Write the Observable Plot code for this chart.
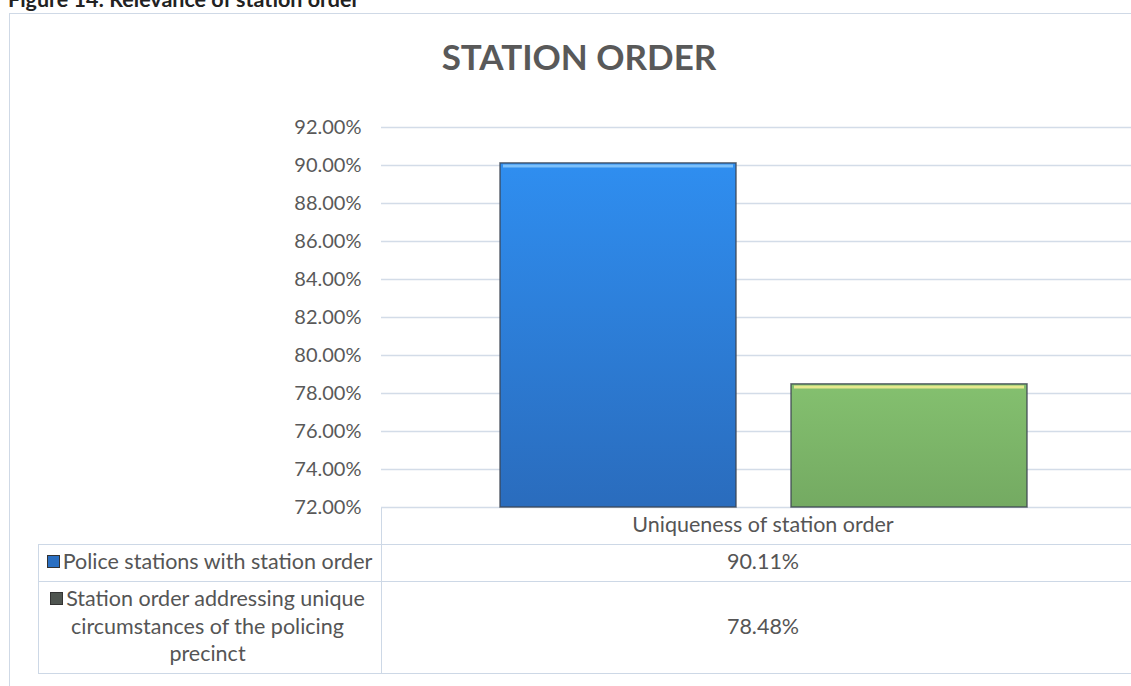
<!DOCTYPE html>
<html>
<head>
<meta charset="utf-8">
<script src="https://cdn.jsdelivr.net/npm/d3@7"></script>
<script src="https://cdn.jsdelivr.net/npm/@observablehq/plot@0.6"></script>
<style>
  body { margin:0; background:#fff; }
  #wrap { position:relative; width:1131px; height:686px; overflow:hidden; background:#fff; font-family: Lato, "Open Sans", sans-serif; color:#595959; }
  .abs { position:absolute; }
  .txt { position:absolute; font-size:21.5px; color:#555; white-space:nowrap; }
  .hl { position:absolute; height:0; border-top:1.5px solid #cdd8e6; }
  .vl { position:absolute; width:0; border-left:1.5px solid #cdd8e6; }
  .key { display:inline-block; width:11px; height:11px; margin-right:3px; vertical-align:1px; border:1px solid #333; }
</style>
</head>
<body>
<div id="wrap">
  <div class="abs" style="left:9px;top:13px;width:1140px;height:700px;border:1.5px solid #cfd9e6;"></div>
  <div class="abs" id="caption" style="left:8px;top:-13px;font-size:21.5px;line-height:25px;font-weight:bold;color:#222;white-space:nowrap;"></div>
  <div class="abs" id="title" style="left:0;top:35px;width:1158px;text-align:center;font-size:35px;font-weight:bold;color:#595959;"></div>
  <div id="chart" class="abs" style="left:0;top:0;"></div>
  <div id="table"></div>
</div>
<script>
const captionText = "Figure 14: Relevance of station order";
const chartTitle = "STATION ORDER";
const categories = ["Uniqueness of station order"];
const seriesNames = ["Police stations with station order", "Station order addressing unique circumstances of the policing precinct"];
const seriesValues = [90.11, 78.48];
const yTicks = [72, 74, 76, 78, 80, 82, 84, 86, 88, 90, 92];

document.getElementById("caption").textContent = captionText;
document.getElementById("title").textContent = chartTitle;

const data = seriesNames.map((s, i) => ({series: s, value: seriesValues[i], category: categories[0]}));

const defs = () => {
  const d = d3.create("svg:defs");
  const gb = d.append("linearGradient").attr("id", "gBlue").attr("x1", 0).attr("x2", 0).attr("y1", 0).attr("y2", 1);
  gb.append("stop").attr("offset", "0%").attr("stop-color", "#2f8ef0");
  gb.append("stop").attr("offset", "100%").attr("stop-color", "#2a6cbd");
  const gg = d.append("linearGradient").attr("id", "gGreen").attr("x1", 0).attr("x2", 0).attr("y1", 0).attr("y2", 1);
  gg.append("stop").attr("offset", "0%").attr("stop-color", "#84c06f");
  gg.append("stop").attr("offset", "100%").attr("stop-color", "#74aa62");
  return d.node();
};

const plot = Plot.plot({
  width: 1131,
  height: 686,
  marginTop: 127,
  marginBottom: 686 - 507,
  marginLeft: 381,
  marginRight: 0,
  style: {background: "transparent", fontFamily: "Lato, 'Open Sans', sans-serif", fontSize: "20px", color: "#595959", overflow: "visible"},
  x: {type: "band", domain: seriesNames, range: [500, 1027], paddingInner: 0.19, paddingOuter: 0, axis: null},
  y: {domain: [72, 92], axis: null},
  color: {domain: seriesNames, range: ["url(#gBlue)", "url(#gGreen)"]},
  marks: [
    defs,
    Plot.ruleY(yTicks, {stroke: "#d3dce8", strokeWidth: 1.5}),
    Plot.axisY({ticks: yTicks, tickFormat: d => d.toFixed(2) + "%", tickSize: 0, tickPadding: 20, fill: "#595959", label: null}),
    Plot.barY(data, {x: "series", y1: 72, y2: "value", fill: "series", stroke: "#3b4450", strokeWidth: 1.5, strokeOpacity: 0.8}),
    Plot.tickY(data.slice(0, 1), {x: "series", y: "value", stroke: "#7cc0fa", strokeWidth: 3, dy: 2.5, inset: 3}),
    Plot.tickY(data.slice(1, 2), {x: "series", y: "value", stroke: "#e6e98e", strokeWidth: 3, dy: 2.5, inset: 3})
  ]
});
document.getElementById("chart").appendChild(plot);

// data table
const t = document.getElementById("table");
function add(html) { t.insertAdjacentHTML("beforeend", html); }
const colX = 381, leftX = 38, rightX = 1140;
const rowsY = [508, 544, 581, 673];
add(`<div class="vl" style="left:${colX}px;top:${rowsY[0]}px;height:${rowsY[3]-rowsY[0]}px"></div>`);
add(`<div class="vl" style="left:${leftX}px;top:${rowsY[1]}px;height:${rowsY[3]-rowsY[1]}px"></div>`);
add(`<div class="hl" style="left:${leftX}px;top:${rowsY[1]}px;width:${rightX-leftX}px"></div>`);
add(`<div class="hl" style="left:${leftX}px;top:${rowsY[2]}px;width:${rightX-leftX}px"></div>`);
add(`<div class="hl" style="left:${leftX}px;top:${rowsY[3]}px;width:${rightX-leftX}px"></div>`);
const valCenter = 763;
add(`<div class="txt" style="left:${valCenter-300}px;width:600px;text-align:center;top:${rowsY[0]+3}px">${categories[0]}</div>`);
const fmt = v => v.toFixed(2) + "%";
add(`<div class="txt" style="left:${valCenter-300}px;width:600px;text-align:center;top:${rowsY[1]+4}px">${fmt(seriesValues[0])}</div>`);
add(`<div class="txt" style="left:${valCenter-300}px;width:600px;text-align:center;top:${rowsY[2]+32}px">${fmt(seriesValues[1])}</div>`);
const keyColors = ["#2a6fc2", "#4f5550"];
add(`<div class="txt" style="left:${leftX+2}px;width:${colX-leftX-4}px;top:${rowsY[1]+4}px;white-space:normal;text-align:center;line-height:27px"><span class="key" style="background:${keyColors[0]}"></span>${seriesNames[0]}</div>`);
add(`<div class="txt" style="left:${leftX+2}px;width:${colX-leftX-8}px;top:${rowsY[2]+4}px;white-space:normal;text-align:center;line-height:27.5px"><span class="key" style="background:${keyColors[1]}"></span>${seriesNames[1]}</div>`);
</script>
</body>
</html>
